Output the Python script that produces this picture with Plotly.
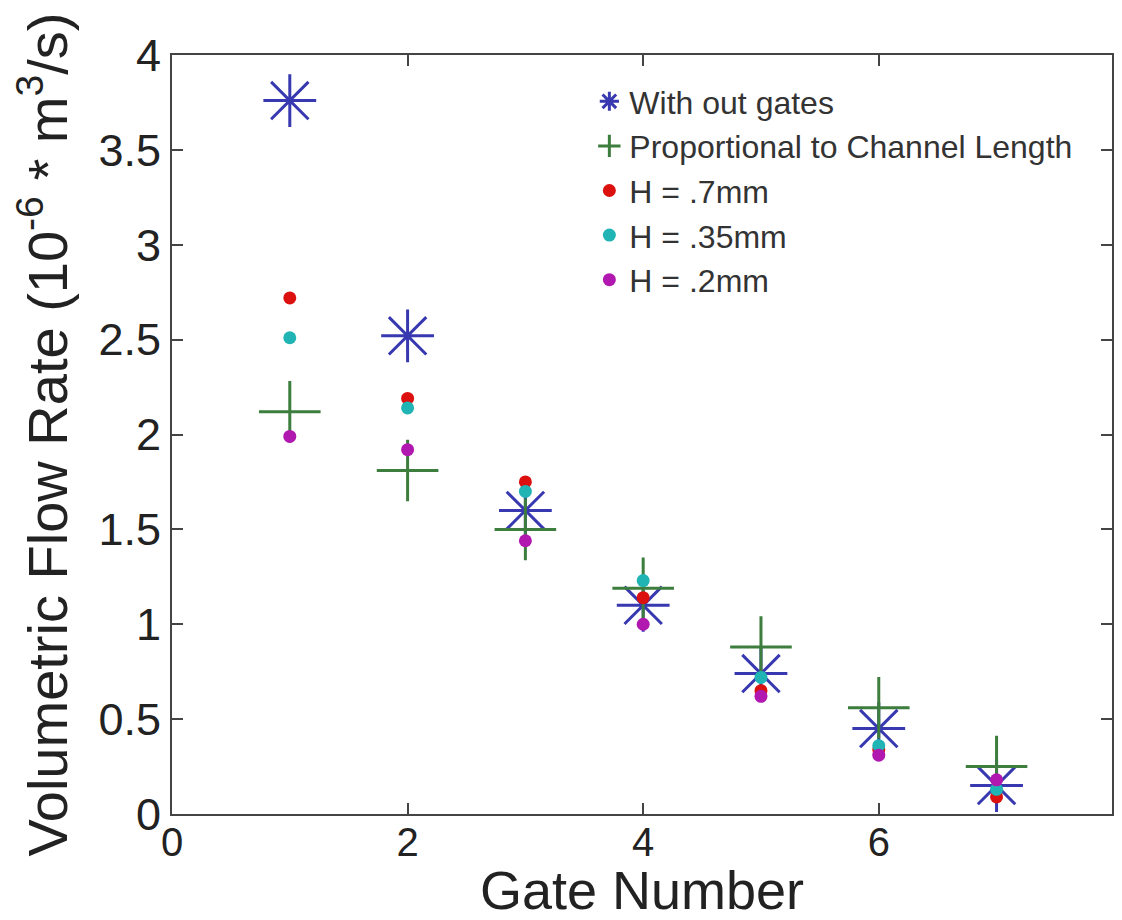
import plotly.graph_objects as go

gates = [1, 2, 3, 4, 5, 6, 7]
without_gates = [3.76, 2.52, 1.60, 1.10, 0.74, 0.45, 0.15]
proportional = [2.12, 1.81, 1.50, 1.19, 0.88, 0.56, 0.25]
h_07 = [2.72, 2.19, 1.75, 1.14, 0.65, 0.34, 0.09]
h_035 = [2.51, 2.14, 1.70, 1.23, 0.72, 0.36, 0.13]
h_02 = [1.99, 1.92, 1.44, 1.00, 0.62, 0.31, 0.18]

x_ticks = [0, 2, 4, 6]
y_ticks = [0, 0.5, 1, 1.5, 2, 2.5, 3, 3.5, 4]
y_tick_text = ["0", "0.5", "1", "1.5", "2", "2.5", "3", "3.5", "4"]

FONT = "Liberation Sans, Arial, sans-serif"

fig = go.Figure()
fig.add_trace(go.Scatter(
    x=gates, y=without_gates, mode="markers", name="With out gates",
    marker=dict(symbol="asterisk-open", size=44, color="#3838b0",
                line=dict(width=3, color="#3838b0"))))
fig.add_trace(go.Scatter(
    x=gates, y=proportional, mode="markers", name="Proportional to Channel Length",
    marker=dict(symbol="cross-thin-open", size=44, color="#3d7d3d",
                line=dict(width=3, color="#3d7d3d"))))
fig.add_trace(go.Scatter(
    x=gates, y=h_07, mode="markers", name="H = .7mm",
    marker=dict(symbol="circle", size=13, color="#dd1010")))
fig.add_trace(go.Scatter(
    x=gates, y=h_035, mode="markers", name="H = .35mm",
    marker=dict(symbol="circle", size=13, color="#20b4b4")))
fig.add_trace(go.Scatter(
    x=gates, y=h_02, mode="markers", name="H = .2mm",
    marker=dict(symbol="circle", size=13, color="#b018b0")))

axis_common = dict(
    showline=True, linecolor="#444444", linewidth=2, mirror="ticks",
    ticks="inside", ticklen=11, tickwidth=2, tickcolor="#444444",
    showgrid=False, zeroline=False,
)

fig.update_xaxes(range=[0, 7.98], tickvals=x_ticks, ticktext=[str(v) for v in x_ticks],
                 tickfont=dict(family=FONT, size=40, color="#222222"),
                 ticklabelstandoff=-8,
                 title=dict(text="Gate Number", font=dict(family=FONT, size=54, color="#222222"),
                            standoff=4),
                 **axis_common)
fig.update_yaxes(range=[0, 4], tickvals=y_ticks, ticktext=y_tick_text,
                 tickfont=dict(family=FONT, size=45, color="#222222"),
                 title=dict(text="Volumetric Flow Rate (10<sup>-6</sup> * m<sup>3</sup>/s)",
                            font=dict(family=FONT, size=56, color="#222222"), standoff=13),
                 **axis_common)

fig.update_layout(
    width=1122, height=920,
    margin=dict(l=172, r=10, t=55, b=106, autoexpand=False),
    paper_bgcolor="white", plot_bgcolor="white",
    showlegend=True,
    legend=dict(x=0.444, y=0.975, xanchor="left", yanchor="top",
                bgcolor="rgba(0,0,0,0)", borderwidth=0,
                font=dict(family=FONT, size=32, color="#333333"),
                itemsizing="trace", tracegroupgap=0),
)

fig.write_html("out.html", config={"displayModeBar": False},
               post_script="document.body.style.margin='0';")
